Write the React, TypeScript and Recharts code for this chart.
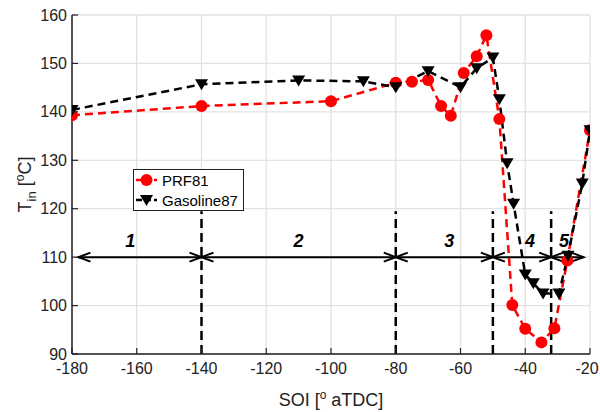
import React from "react";
import { ComposedChart, Line, XAxis, YAxis, CartesianGrid, ReferenceLine, ReferenceDot } from "recharts";

const xTicks = [-180, -160, -140, -120, -100, -80, -60, -40, -20];
const yTicks = [90, 100, 110, 120, 130, 140, 150, 160];

// PRF81 (red circles)
const prfSoi = [-180, -140, -100, -80, -75, -70, -66, -63, -59, -55, -52, -48, -44, -40, -35, -31, -27, -20];
const prfTin = [139.3, 141.2, 142.2, 146, 146.2, 146.6, 141.2, 139.2, 148, 151.5, 155.8, 138.5, 100.1, 95.2, 92.4, 95.3, 109.3, 136.2];

// Gasoline87 (black triangles)
const gasSoi = [-180, -140, -110, -90, -80, -70, -60, -55, -50, -48, -45.6, -43.6, -40, -37.5, -34.5, -29.6, -26.8, -22.4, -20];
const gasTin = [140.4, 145.7, 146.5, 146.3, 145.1, 148.4, 145.1, 149, 151.2, 142.6, 129.4, 121, 106.4, 104.6, 102.5, 102.5, 110.3, 125.2, 136.2];

// combustion phases
const phaseNames = ["1", "2", "3", "4", "5"];
const phaseStart = [-178, -140, -80, -50, -32];
const phaseEnd = [-140, -80, -50, -32, -22];
const phaseLabelX = [-162, -110, -63.5, -38.5, -28];
const dividers = [-140, -80, -50, -32];
const arrowLevel = 110;
const labelLevel = 113.3;
const dividerTop = 119.5;

const prfData = prfSoi.map((soi, i) => ({ soi, prf: prfTin[i] }));
const gasData = gasSoi.map((soi, i) => ({ soi, gas: gasTin[i] }));

const AXIS = "#222";
const FONT = "'Liberation Sans', Arial, sans-serif";

const RedDot = (p: any) =>
  p.cx == null ? null : <circle key={p.key} cx={p.cx} cy={p.cy} r={6} fill="#ff0000" />;

const TriDot = (p: any) =>
  p.cx == null ? null : (
    <path
      key={p.key}
      d={`M${p.cx - 6.5},${p.cy - 5} L${p.cx + 6.5},${p.cy - 5} L${p.cx},${p.cy + 6} Z`}
      fill="#000"
    />
  );

const BottomTick = ({ x, y, payload }: any) => (
  <g>
    <line x1={x} x2={x} y1={y} y2={y - 6} stroke={AXIS} strokeWidth={1.2} />
    {/* keep the last label inside the 600px page */}
    <text x={Math.min(x, 587)} y={y + 20} textAnchor="middle" fontSize={16} fill={AXIS} fontFamily={FONT}>
      {payload.value}
    </text>
  </g>
);

const TopTick = ({ x, y }: any) => <line x1={x} x2={x} y1={y} y2={y + 6} stroke={AXIS} strokeWidth={1.2} />;

const LeftTick = ({ x, y, payload }: any) => (
  <g>
    <line x1={x} x2={x + 6} y1={y} y2={y} stroke={AXIS} strokeWidth={1.2} />
    <text x={x - 5} y={y + 5.5} textAnchor="end" fontSize={16} fill={AXIS} fontFamily={FONT}>
      {payload.value}
    </text>
  </g>
);

const RightTick = ({ x, y }: any) => <line x1={x} x2={x - 6} y1={y} y2={y} stroke={AXIS} strokeWidth={1.2} />;

const XTitle = ({ viewBox }: any) => (
  <text
    x={viewBox.x + viewBox.width / 2}
    y={viewBox.y + 52}
    textAnchor="middle"
    fontSize={18}
    fill={AXIS}
    fontFamily={FONT}
  >
    SOI [<tspan dy={-7} fontSize={12}>o</tspan>
    <tspan dy={7}> aTDC]</tspan>
  </text>
);

const YTitle = ({ viewBox }: any) => {
  const cx = 31;
  const cy = viewBox.y + viewBox.height / 2;
  return (
    <text
      x={cx}
      y={cy}
      transform={`rotate(-90, ${cx}, ${cy})`}
      textAnchor="middle"
      fontSize={18}
      fill={AXIS}
      fontFamily={FONT}
    >
      T<tspan dy={5} fontSize={13}>in</tspan>
      <tspan dy={-5}> [</tspan>
      <tspan dy={-7} fontSize={12}>o</tspan>
      <tspan dy={7}>C]</tspan>
    </text>
  );
};

const DoubleArrow = (p: any) => {
  const { x1, y1, x2, y2 } = p;
  const h = 12;
  const w = 4.5;
  return (
    <g stroke="#000" strokeWidth={2} fill="none">
      <line x1={x1} y1={y1} x2={x2} y2={y2} />
      <polyline points={`${x1 + h},${y1 - w} ${x1},${y1} ${x1 + h},${y1 + w}`} />
      <polyline points={`${x2 - h},${y2 - w} ${x2},${y2} ${x2 - h},${y2 + w}`} />
    </g>
  );
};

const PhaseLabel = (text: string) => (p: any) => (
  <text
    x={p.cx}
    y={p.cy + 6}
    textAnchor="middle"
    fontSize={18}
    fontStyle="italic"
    fontWeight="bold"
    fill="#000"
    fontFamily={FONT}
  >
    {text}
  </text>
);

function Legend() {
  return (
    <div
      style={{
        position: "absolute",
        left: 133,
        top: 169,
        width: 111,
        height: 42,
        boxSizing: "border-box",
        border: `1px solid ${AXIS}`,
        background: "#fff",
      }}
    >
      <svg width={111} height={42} style={{ position: "absolute", left: -1, top: -1 }}>
        <line x1={3} x2={24} y1={11} y2={11} stroke="#ff0000" strokeWidth={2.5} strokeDasharray="6 3" />
        <circle cx={13.5} cy={11} r={6} fill="#ff0000" />
        <text x={29} y={16.5} fontSize={15} fill="#000" fontFamily={FONT}>PRF81</text>
        <line x1={3} x2={24} y1={31} y2={31} stroke="#000" strokeWidth={2.5} strokeDasharray="6 3" />
        <path d="M7,26 L20,26 L13.5,37 Z" fill="#000" />
        <text x={29} y={36.5} fontSize={15} fill="#000" fontFamily={FONT}>Gasoline87</text>
      </svg>
    </div>
  );
}

export default function App() {
  return (
    <div style={{ position: "relative", width: 600, height: 412, background: "#fff", overflow: "hidden" }}>
      <style>{"body{margin:0}"}</style>
      <ComposedChart width={600} height={412} margin={{ top: 15, right: 10, bottom: 18, left: 12 }}>
        <CartesianGrid stroke="#e2e2e2" strokeWidth={1.3} />
        <XAxis
          dataKey="soi"
          type="number"
          domain={[-180, -20]}
          ticks={xTicks}
          interval={0}
          allowDataOverflow
          tickSize={0}
          tickMargin={0}
          tickLine={false}
          tick={BottomTick}
          axisLine={{ stroke: AXIS, strokeWidth: 1.5 }}
          height={40}
          label={<XTitle />}
        />
        <XAxis
          xAxisId="top"
          orientation="top"
          type="number"
          domain={[-180, -20]}
          ticks={xTicks}
          interval={0}
          allowDataOverflow
          tickSize={0}
          tickMargin={0}
          tickLine={false}
          tick={TopTick}
          axisLine={{ stroke: AXIS, strokeWidth: 1.5 }}
          height={0}
        />
        <YAxis
          type="number"
          domain={[90, 160]}
          ticks={yTicks}
          interval={0}
          allowDataOverflow
          tickSize={0}
          tickMargin={0}
          tickLine={false}
          tick={LeftTick}
          axisLine={{ stroke: AXIS, strokeWidth: 1.5 }}
          width={60}
          label={<YTitle />}
        />
        <YAxis
          yAxisId="right"
          orientation="right"
          type="number"
          domain={[90, 160]}
          ticks={yTicks}
          interval={0}
          allowDataOverflow
          tickSize={0}
          tickMargin={0}
          tickLine={false}
          tick={RightTick}
          axisLine={{ stroke: AXIS, strokeWidth: 1.5 }}
          width={0}
        />
        {dividers.map((d) => (
          <ReferenceLine
            key={`div${d}`}
            segment={[{ x: d, y: 90 }, { x: d, y: dividerTop }]}
            stroke="#000"
            strokeWidth={2.5}
            strokeDasharray="9 5"
          />
        ))}
        {phaseStart.map((s, i) => (
          <ReferenceLine
            key={`arr${i}`}
            segment={[{ x: s, y: arrowLevel }, { x: phaseEnd[i], y: arrowLevel }]}
            shape={DoubleArrow}
          />
        ))}
        {phaseNames.map((n, i) => (
          <ReferenceDot key={`lab${n}`} x={phaseLabelX[i]} y={labelLevel} r={0} shape={PhaseLabel(n)} />
        ))}
        <Line
          data={prfData}
          dataKey="prf"
          type="linear"
          stroke="#ff0000"
          strokeWidth={2.5}
          strokeDasharray="8 5"
          dot={RedDot}
          activeDot={false}
          isAnimationActive={false}
        />
        <Line
          data={gasData}
          dataKey="gas"
          type="linear"
          stroke="#000"
          strokeWidth={2.5}
          strokeDasharray="8 5"
          dot={TriDot}
          activeDot={false}
          isAnimationActive={false}
        />
      </ComposedChart>
      <Legend />
    </div>
  );
}
